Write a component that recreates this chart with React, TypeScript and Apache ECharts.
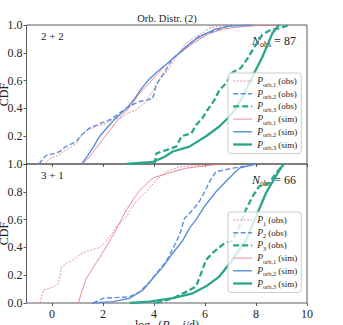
import React, { useEffect, useRef } from "react";
import * as echarts from "echarts";

// ---- data (x = log10(P/d), y = CDF) ----
const topObs1 = [[-0.3,0],[-0.1,0.035],[0.04,0.05],[0.25,0.06],[0.44,0.09],[0.7,0.115],[0.96,0.15],[1.15,0.2],[1.35,0.245],[1.74,0.27],[2.1,0.29],[2.4,0.32],[2.7,0.33],[2.92,0.36],[3.3,0.39],[3.5,0.42],[3.7,0.45],[3.96,0.53],[4.2,0.6],[4.6,0.69],[4.87,0.77],[5.26,0.87],[5.6,0.91],[5.9,0.94],[6.17,0.975],[6.5,0.99],[6.9,1.0]];
const topObs2 = [[-0.5,0],[-0.35,0.04],[-0.2,0.065],[0.1,0.075],[0.31,0.09],[0.5,0.12],[0.7,0.14],[0.95,0.16],[1.1,0.2],[1.3,0.23],[1.48,0.26],[1.75,0.28],[2.0,0.3],[2.3,0.32],[2.53,0.35],[2.9,0.4],[3.2,0.43],[3.44,0.45],[3.7,0.46],[3.95,0.47],[4.09,0.57],[4.3,0.63],[4.48,0.68],[4.73,0.76],[5.0,0.8],[5.26,0.84],[5.5,0.88],[5.78,0.92],[6.1,0.94],[6.43,0.96],[6.7,0.98],[7.07,1.0]];
const topObs3 = [[4.02,0],[4.09,0.075],[4.3,0.09],[4.48,0.1],[4.87,0.125],[5.0,0.17],[5.07,0.2],[5.46,0.22],[5.65,0.28],[5.9,0.33],[6.1,0.39],[6.37,0.46],[6.56,0.53],[6.82,0.58],[7.08,0.66],[7.4,0.69],[7.67,0.76],[7.93,0.84],[8.25,0.93],[8.58,0.965],[8.9,0.975],[9.3,1.0]];
const topSim1 = [[1.22,0],[1.5,0.06],[1.8,0.13],[2.0,0.18],[2.3,0.25],[2.6,0.32],[2.9,0.38],[3.1,0.42],[3.4,0.5],[3.7,0.56],[3.9,0.6],[4.2,0.66],[4.5,0.72],[4.8,0.77],[5.05,0.8],[5.4,0.85],[5.8,0.9],[6.2,0.94],[6.7,0.97],[7.3,0.985],[8.0,0.995],[9.0,1.0]];
const topSim2 = [[1.16,0],[1.4,0.06],[1.65,0.13],[1.87,0.2],[2.2,0.27],[2.5,0.33],[2.92,0.4],[3.2,0.46],[3.5,0.54],[3.76,0.6],[4.1,0.66],[4.5,0.72],[5.0,0.8],[5.3,0.85],[5.66,0.9],[6.0,0.935],[6.4,0.97],[6.9,0.99],[7.85,1.0]];
const topSim3 = [[2.92,0],[3.96,0.015],[4.4,0.05],[4.74,0.09],[5.39,0.125],[6.04,0.2],[6.56,0.27],[6.95,0.34],[7.2,0.4],[7.47,0.48],[7.86,0.63],[8.25,0.77],[8.64,0.94],[8.9,1.0]];

const botObs1 = [[-0.47,0],[-0.34,0.094],[-0.08,0.106],[0.1,0.12],[0.25,0.14],[0.38,0.26],[0.6,0.29],[0.83,0.31],[1.1,0.35],[1.35,0.37],[1.88,0.4],[2.1,0.44],[2.27,0.48],[2.53,0.55],[2.92,0.62],[3.1,0.68],[3.31,0.73],[3.7,0.8],[4.09,0.885],[4.48,0.945],[5.0,0.98],[5.78,0.99],[6.4,1.0]];
const botObs2 = [[1.61,0],[2.0,0.034],[3.05,0.045],[3.44,0.08],[3.83,0.15],[4.15,0.225],[4.48,0.3],[4.74,0.39],[5.0,0.49],[5.2,0.61],[5.52,0.67],[5.78,0.73],[6.04,0.82],[6.2,0.88],[6.43,0.945],[7.08,0.97],[7.6,0.985],[8.0,1.0]];
const botObs3 = [[4.09,0],[4.74,0.034],[5.26,0.08],[5.65,0.12],[5.78,0.18],[6.04,0.31],[6.3,0.36],[6.69,0.42],[7.08,0.45],[7.34,0.55],[7.6,0.67],[7.86,0.765],[8.13,0.84],[8.5,0.86],[8.77,0.93],[9.04,0.99],[9.1,1.0]];
const botSim1 = [[1.03,0],[1.2,0.1],[1.35,0.18],[1.88,0.33],[2.4,0.49],[2.92,0.67],[3.2,0.75],[3.44,0.81],[3.96,0.9],[4.48,0.93],[5.26,0.97],[6.4,0.995],[7.1,1.0]];
const botSim2 = [[1.55,0],[2.4,0.01],[3.05,0.034],[3.57,0.094],[3.96,0.18],[4.35,0.26],[4.74,0.36],[5.13,0.45],[5.4,0.54],[5.65,0.6],[6.0,0.7],[6.43,0.8],[6.95,0.9],[7.34,0.97],[8.0,1.0]];
const botSim3 = [[3.05,0],[3.83,0.01],[4.74,0.035],[5.52,0.07],[6.04,0.12],[6.56,0.19],[7.08,0.31],[7.6,0.45],[8.0,0.62],[8.39,0.79],[8.77,0.91],[9.04,0.99],[9.1,1.0]];

const xTicks = [0, 2, 4, 6, 8, 10];
const yTicks = [0, 0.2, 0.4, 0.6, 0.8, 1.0];
const yTicksTop = [0.2, 0.4, 0.6, 0.8, 1.0];

const topNames = ["o1t", "o2t", "o3t", "s1t", "s2t", "s3t"];
const botNames = ["o1b", "o2b", "o3b", "s1b", "s2b", "s3b"];
const legendLabels: Record<string, string> = {
  o1t: "{p|P}{s|orb,1}{t| (obs)}",
  o2t: "{p|P}{s|orb,2}{t| (obs)}",
  o3t: "{p|P}{s|orb,3}{t| (obs)}",
  s1t: "{p|P}{s|orb,1}{t| (sim)}",
  s2t: "{p|P}{s|orb,2}{t| (sim)}",
  s3t: "{p|P}{s|orb,3}{t| (sim)}",
  o1b: "{p|P}{s|1}{t| (obs)}",
  o2b: "{p|P}{s|2}{t| (obs)}",
  o3b: "{p|P}{s|3}{t| (obs)}",
  s1b: "{p|P}{s|orb,1}{t| (sim)}",
  s2b: "{p|P}{s|orb,2}{t| (sim)}",
  s3b: "{p|P}{s|orb,3}{t| (sim)}",
};

const RED = "#e0707e";
const BLUE = "#5b8fd8";
const GREEN = "#2ba68b";
const FONT = "Liberation Serif";
const AX = "#333333";
const CLEAR = "rgba(0,0,0,0)";

const styles = [
  { color: RED, width: 0.8, type: [2, 1.5] },
  { color: BLUE, width: 1.4, type: [5, 2.5] },
  { color: GREEN, width: 2.3, type: [6, 3] },
  { color: RED, width: 0.8, type: "solid" },
  { color: BLUE, width: 1.4, type: "solid" },
  { color: GREEN, width: 2.3, type: "solid" },
];

export default function App() {
  const ref = useRef<HTMLDivElement>(null);
  useEffect(() => {
    if (!ref.current) return;
    const chart = echarts.init(ref.current, null, { renderer: "svg" });
    const topData = [topObs1, topObs2, topObs3, topSim1, topSim2, topSim3];
    const botData = [botObs1, botObs2, botObs3, botSim1, botSim2, botSim3];
    const series: any[] = [];
    topData.forEach((d, i) => {
      series.push({
        type: "line", name: topNames[i], data: d, xAxisIndex: 0, yAxisIndex: 0,
        symbol: "none", showSymbol: false, z: 3,
        lineStyle: styles[i], itemStyle: { color: styles[i].color },
      });
    });
    botData.forEach((d, i) => {
      series.push({
        type: "line", name: botNames[i], data: d, xAxisIndex: 1, yAxisIndex: 1,
        symbol: "none", showSymbol: false, z: 3,
        lineStyle: styles[i], itemStyle: { color: styles[i].color },
      });
    });
    const rich = {
      p: { fontFamily: FONT, fontStyle: "italic", fontSize: 9.5, lineHeight: 12, color: "#222" },
      s: { fontFamily: FONT, fontSize: 6.3, lineHeight: 7, verticalAlign: "bottom", color: "#222" },
      t: { fontFamily: FONT, fontSize: 9, lineHeight: 12, color: "#222" },
    };
    const mkLegend = (names: string[], top: number) => ({
      orient: "vertical",
      left: 228,
      top,
      itemWidth: 19,
      itemHeight: 10,
      itemGap: 1.7,
      padding: [3, 4, 3, 4],
      backgroundColor: "rgba(255,255,255,0.8)",
      borderColor: "#cccccc",
      borderWidth: 1,
      borderRadius: 3,
      z: 10,
      itemStyle: { color: CLEAR, borderColor: CLEAR, borderWidth: 0, opacity: 0 },
      data: names.map((n, i) => ({
        name: n,
        lineStyle: { ...styles[i] },
        itemStyle: { color: CLEAR, borderColor: CLEAR, borderWidth: 0, opacity: 0 },
      })),
      formatter: (n: string) => legendLabels[n],
      textStyle: { fontFamily: FONT, fontSize: 9, color: "#222", rich },
      selectedMode: false,
    });
    const xAxisBase = (gi: number, showLabel: boolean) => ({
      type: "value", gridIndex: gi, min: -1, max: 10,
      splitLine: { show: false },
      axisLine: { show: false, onZero: false },
      axisTick: { show: true, inside: false, length: 3, customValues: xTicks, lineStyle: { color: AX, width: 0.8 } },
      axisLabel: { show: showLabel, customValues: xTicks, margin: 5, fontFamily: FONT, fontSize: 12, color: "#262626" },
    });
    const yAxisBase = (gi: number, labels: number[]) => ({
      type: "value", gridIndex: gi, min: 0, max: 1,
      splitLine: { show: false },
      axisLine: { show: false, onZero: false },
      axisTick: { show: true, inside: false, length: 3, customValues: yTicks, lineStyle: { color: AX, width: 0.8 } },
      axisLabel: { customValues: labels, margin: 4, fontFamily: FONT, fontSize: 12, color: "#262626", formatter: (v: number) => v.toFixed(1) },
    });
    const txt = (t: string, x: number, y: number, size: number, align = "left", extra: any = {}) => ({
      type: "text", x, y, z: 1, ...extra,
      style: {
        text: t, fontFamily: FONT, fontSize: size, fill: "#222",
        align, verticalAlign: "middle", textAlign: align, textVerticalAlign: "middle",
        ...(extra.styleExtra || {}),
      },
    });
    const nRich = {
      n: { fontFamily: FONT, fontStyle: "italic", fontSize: 12, lineHeight: 14, color: "#222" },
      s: { fontFamily: FONT, fontSize: 8, lineHeight: 8, verticalAlign: "bottom", color: "#222" },
      t: { fontFamily: FONT, fontSize: 12, lineHeight: 14, color: "#222" },
    };
    const xlRich = {
      t: { fontFamily: FONT, fontSize: 12, lineHeight: 14, color: "#222" },
      i: { fontFamily: FONT, fontStyle: "italic", fontSize: 12, lineHeight: 14, color: "#222" },
      s: { fontFamily: FONT, fontSize: 8, lineHeight: 8, verticalAlign: "bottom", color: "#222" },
    };
    chart.setOption({
      animation: false,
      grid: [
        { left: 26.5, top: 25, width: 280.5, height: 139, show: true, borderColor: AX, borderWidth: 0.8, backgroundColor: "transparent" },
        { left: 26.5, top: 164, width: 280.5, height: 139, show: true, borderColor: AX, borderWidth: 0.8, backgroundColor: "transparent" },
      ],
      xAxis: [xAxisBase(0, false), xAxisBase(1, true)],
      yAxis: [yAxisBase(0, yTicksTop), yAxisBase(1, yTicks)],
      legend: [mkLegend(topNames, 73), mkLegend(botNames, 212)],
      series,
      graphic: [
        txt("Orb. Distr. (2)", 167, 18, 10.5, "center"),
        txt("2 + 2", 41, 36, 11),
        txt("3 + 1", 41, 175, 11),
        txt("", 252, 41, 12, "left", { styleExtra: { text: "{n|N}{s|obs}{t| = 87}", rich: nRich } }),
        txt("", 252, 180, 12, "left", { styleExtra: { text: "{n|N}{s|obs}{t| = 66}", rich: nRich } }),
        txt("CDF", 4, 94.5, 12, "center", { rotation: Math.PI / 2 }),
        txt("CDF", 4, 233.5, 12, "center", { rotation: Math.PI / 2 }),
        txt("", 167, 325, 12, "center", { styleExtra: { text: "{t|log}{s|10}{t|(}{i|P}{s|orb,}{i|i}{t|/d)}", rich: xlRich } }),
      ],
    });
    return () => chart.dispose();
  }, []);
  return (
    <div
      ref={ref}
      style={{ position: "absolute", left: 0, top: 0, width: 343, height: 325, background: "#fff" }}
    />
  );
}
